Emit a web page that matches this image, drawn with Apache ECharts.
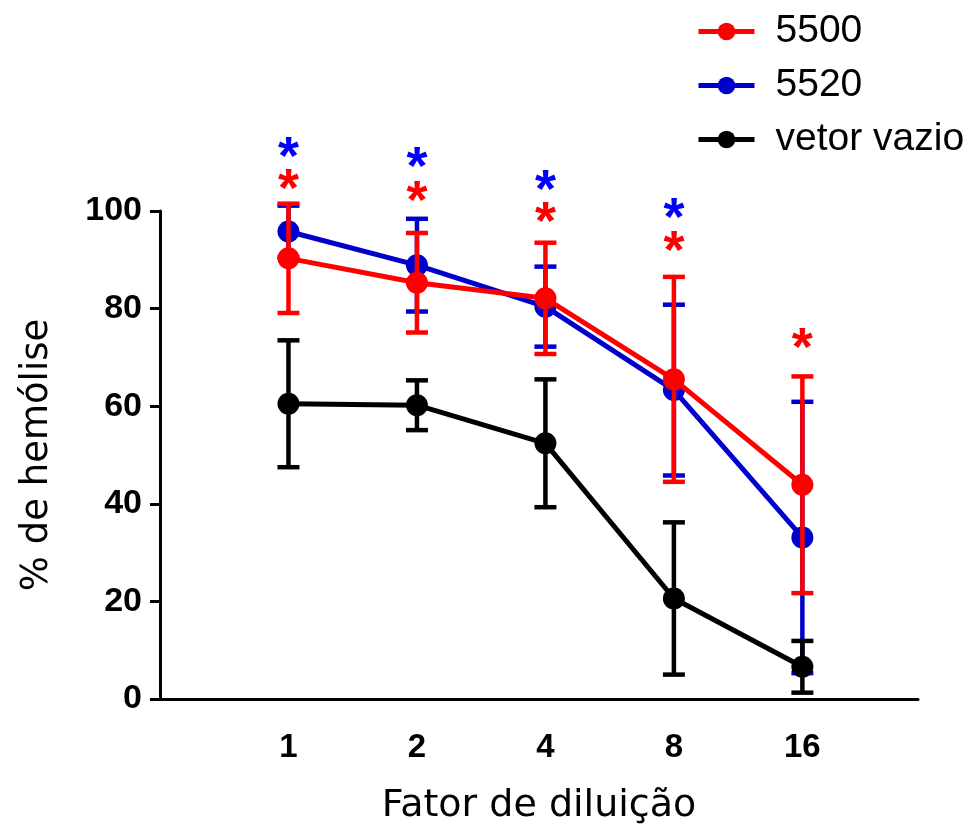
<!DOCTYPE html>
<html>
<head>
<meta charset="utf-8">
<script src="https://cdn.jsdelivr.net/npm/echarts@6/dist/echarts.min.js"></script>
<style>
  html, body { margin: 0; padding: 0; background: #fff; }
  #chart { width: 976px; height: 832px; }
</style>
</head>
<body>
<div id="chart"></div>
<script>
// fator de diluição (categorias no eixo x)
const xLabels = ['1', '2', '4', '8', '16'];
const xPos = [1, 2, 3, 4, 5];

// médias e erros
const mean5500 = [90.3, 85.3, 82.1, 65.5, 43.9];
const err5500 = [11.2, 10.2, 11.4, 21.0, 22.2];
const mean5520 = [95.8, 88.9, 80.4, 63.3, 33.1];
const err5520 = [5.3, 9.5, 8.2, 17.5, 27.8];
const meanVazio = [60.5, 60.2, 52.4, 20.6, 6.6];
const errVazio = [13.0, 5.1, 13.1, 15.6, 5.3];

// posições dos asteriscos (significância)
const star5500 = [106.4, 103.9, 99.5, 93.6, 73.8];
const star5520 = [112.8, 110.8, 106.1, 100.3, null];

const RED = '#FF0000';
const BLUE = '#0000CC';
const BLUE_STAR = '#0000FF';
const BLACK = '#000000';

const myChart = echarts.init(document.getElementById('chart'));

function errData(mean, err) {
  return xPos.map((x, i) => [x, mean[i] - err[i], mean[i] + err[i]]);
}

// barras de erro (sem nome, para a legenda pegar a série de linha)
function errSeries(mean, err, color, z) {
  return {
    type: 'custom',
    z: z,
    data: errData(mean, err),
    encode: { x: 0, y: [1, 2] },
    renderItem: function (params, api) {
      const x = api.value(0);
      const lo = api.coord([x, api.value(1)]);
      const hi = api.coord([x, api.value(2)]);
      const hw = 11;
      const st = { stroke: color, lineWidth: 4.5 };
      return {
        type: 'group',
        children: [
          { type: 'line', shape: { x1: lo[0], y1: lo[1], x2: hi[0], y2: hi[1] }, style: st },
          { type: 'line', shape: { x1: hi[0] - hw, y1: hi[1], x2: hi[0] + hw, y2: hi[1] }, style: st },
          { type: 'line', shape: { x1: lo[0] - hw, y1: lo[1], x2: lo[0] + hw, y2: lo[1] }, style: st }
        ]
      };
    }
  };
}

function starSeries(stars, color) {
  return {
    type: 'custom',
    z: 10,
    data: xPos.map((x, i) => [x, stars[i]]).filter(d => d[1] != null),
    renderItem: function (params, api) {
      const p = api.coord([api.value(0), api.value(1)]);
      return {
        type: 'text',
        style: {
          text: '*',
          x: p[0],
          y: p[1] + 11,
          align: 'center',
          verticalAlign: 'middle',
          font: 'bold 54px "Liberation Sans", Arial, sans-serif',
          fill: color
        }
      };
    }
  };
}

function lineSeries(name, mean, color, z) {
  return {
    name: name,
    type: 'line',
    z: z,
    data: xPos.map((x, i) => [x, mean[i]]),
    symbol: 'circle',
    symbolSize: 22,
    lineStyle: { color: color, width: 5 },
    itemStyle: { color: color }
  };
}

const option = {
  animation: false,
  backgroundColor: '#fff',
  grid: { left: 160, top: 211, width: 758, height: 488 },
  legend: {
    orient: 'vertical',
    left: 691,
    top: 7,
    itemWidth: 56,
    itemHeight: 22,
    itemGap: 15,
    data: ['5500', '5520', 'vetor vazio'],
    lineStyle: { width: 5 },
    textStyle: {
      fontSize: 39,
      color: '#000',
      fontFamily: '"Liberation Sans", Arial, sans-serif',
      padding: [0, 0, 0, 16]
    }
  },
  xAxis: {
    type: 'value',
    min: 0,
    max: 5.9,
    interval: 1,
    name: 'Fator de diluição',
    nameLocation: 'middle',
    nameGap: 88,
    nameTextStyle: { fontSize: 38, color: '#000', fontFamily: '"DejaVu Sans", sans-serif' },
    axisLine: { lineStyle: { color: '#000', width: 3 } },
    axisTick: { show: false },
    splitLine: { show: false },
    axisLabel: {
      margin: 32,
      fontSize: 33,
      fontWeight: 'bold',
      color: '#000',
      fontFamily: '"Liberation Sans", Arial, sans-serif',
      formatter: function (v) {
        return Number.isInteger(v) && xLabels[v - 1] ? xLabels[v - 1] : '';
      }
    }
  },
  yAxis: {
    type: 'value',
    min: 0,
    max: 100,
    interval: 20,
    name: '% de hemólise',
    nameLocation: 'middle',
    nameGap: 104,
    nameTextStyle: { fontSize: 37, color: '#000', fontFamily: '"DejaVu Sans", sans-serif' },
    axisLine: { show: true, lineStyle: { color: '#000', width: 3 } },
    axisTick: { show: true, length: 10, lineStyle: { color: '#000', width: 3 } },
    splitLine: { show: false },
    axisLabel: {
      margin: 18,
      fontSize: 34,
      fontWeight: 'bold',
      color: '#000',
      fontFamily: '"Liberation Sans", Arial, sans-serif'
    }
  },
  series: [
    errSeries(mean5520, err5520, BLUE, 2),
    lineSeries('5520', mean5520, BLUE, 2),
    errSeries(meanVazio, errVazio, BLACK, 3),
    lineSeries('vetor vazio', meanVazio, BLACK, 3),
    errSeries(mean5500, err5500, RED, 4),
    lineSeries('5500', mean5500, RED, 4),
    starSeries(star5500, RED),
    starSeries(star5520, BLUE_STAR)
  ]
};

myChart.setOption(option);
</script>
</body>
</html>
